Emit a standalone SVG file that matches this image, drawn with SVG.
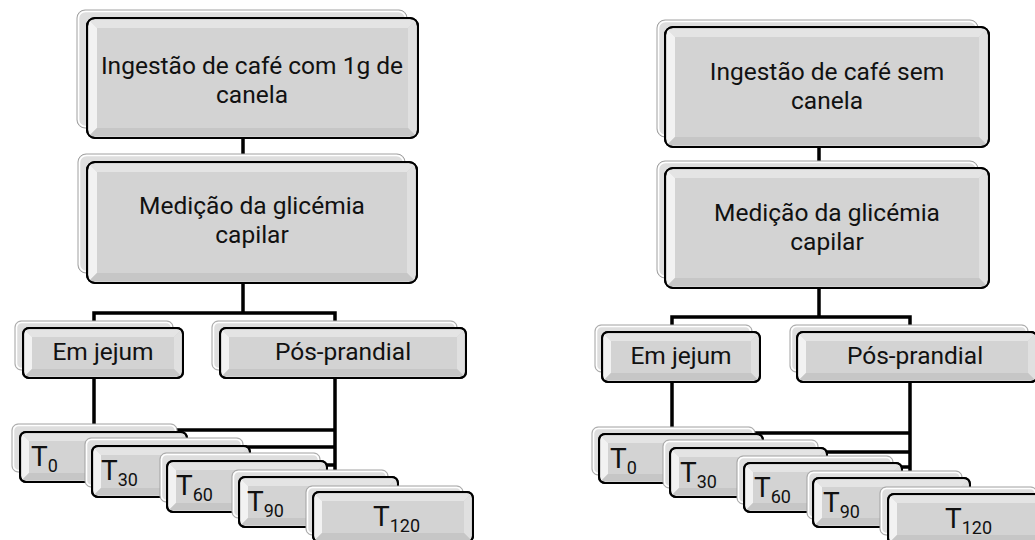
<svg xmlns="http://www.w3.org/2000/svg" width="1035" height="540" viewBox="0 0 1035 540">
<style>
.bk{fill:#dedede;stroke:#a0a0a0;stroke-width:1}
.bkh{fill:none;stroke:#ffffff;stroke-width:1.5}
.fr{fill:#d3d3d3;stroke:#000;stroke-width:2}
.frs{fill:none;stroke:#000;stroke-width:2}
.bt{fill:#e4e4e4}
.bl{fill:#f2f2f2}
.br{fill:#e0e0e0}
.bb{fill:#c6c6c6}
.tx{font-family:Roboto,"Liberation Sans",sans-serif;font-size:24.5px;fill:#111;text-anchor:middle}
.tt{font-family:Roboto,"Liberation Sans",sans-serif;font-size:28px;fill:#111}
.sub{font-size:18px}
.cn{fill:none;stroke:#000;stroke-width:3.5}
</style>
<rect width="1035" height="540" fill="#fff"/>
<g id="connectors">
<path class="cn" d="M243,138V162M243,283V313M94,328V313H335V328M94,378V432M335,378V470M335,430H100M335,447H170M335,465H240"/>
<path class="cn" d="M819,147V168M819,288V317M672,332V317H910V332M672,382V434M910,382V472M910,433H610M910,452H680M910,467H750"/>
</g>
<!-- LEFT -->
<g id="l-ingestao">
<rect class="bk" x="77" y="10" width="330" height="118" rx="8"/><rect class="bkh" x="78.5" y="11.5" width="327" height="115" rx="7"/>
<rect class="fr" x="87" y="18" width="331" height="120" rx="8"/>
<polygon class="bt" points="89,20 416,20 408,28 97,28"/>
<polygon class="bl" points="89,20 97,28 97,128 89,136"/>
<polygon class="br" points="416,20 416,136 408,128 408,28"/>
<polygon class="bb" points="89,136 97,128 408,128 416,136"/>
<rect class="frs" x="87" y="18" width="331" height="120" rx="8"/>
<text class="tx" x="252" y="74">Ingestão de café com 1g de<tspan x="252" y="103">canela</tspan></text>
</g>
<g id="l-medicao">
<rect class="bk" x="78" y="154" width="327" height="119" rx="8"/><rect class="bkh" x="79.5" y="155.5" width="324" height="116" rx="7"/>
<rect class="fr" x="87" y="162" width="330" height="121" rx="8"/>
<polygon class="bt" points="89,164 415,164 407,172 97,172"/>
<polygon class="bl" points="89,164 97,172 97,273 89,281"/>
<polygon class="br" points="415,164 415,281 407,273 407,172"/>
<polygon class="bb" points="89,281 97,273 407,273 415,281"/>
<rect class="frs" x="87" y="162" width="330" height="121" rx="8"/>
<text class="tx" x="252" y="214">Medição da glicémia<tspan x="252" y="243">capilar</tspan></text>
</g>
<g id="l-jejum">
<rect class="bk" x="15" y="321" width="158" height="49" rx="6"/><rect class="bkh" x="16.5" y="322.5" width="155" height="46" rx="5"/>
<rect class="fr" x="23" y="328" width="160" height="50" rx="6"/>
<polygon class="bt" points="25,330 181,330 174,337 32,337"/>
<polygon class="bl" points="25,330 32,337 32,369 25,376"/>
<polygon class="br" points="181,330 181,376 174,369 174,337"/>
<polygon class="bb" points="25,376 32,369 174,369 181,376"/>
<rect class="frs" x="23" y="328" width="160" height="50" rx="6"/>
<text class="tx" x="103" y="360">Em jejum</text>
</g>
<g id="l-pos">
<rect class="bk" x="212" y="321" width="245" height="49" rx="6"/><rect class="bkh" x="213.5" y="322.5" width="242" height="46" rx="5"/>
<rect class="fr" x="220" y="328" width="246" height="50" rx="6"/>
<polygon class="bt" points="222,330 464,330 457,337 229,337"/>
<polygon class="bl" points="222,330 229,337 229,369 222,376"/>
<polygon class="br" points="464,330 464,376 457,369 457,337"/>
<polygon class="bb" points="222,376 229,369 457,369 464,376"/>
<rect class="frs" x="220" y="328" width="246" height="50" rx="6"/>
<text class="tx" x="343" y="360">Pós-prandial</text>
</g>
<g id="l-t0">
<rect class="bk" x="12" y="424" width="165" height="48" rx="6"/><rect class="bkh" x="13.5" y="425.5" width="162" height="45" rx="5"/>
<rect class="fr" x="20" y="432" width="167" height="50" rx="6"/>
<polygon class="bt" points="22,434 185,434 178,441 29,441"/>
<polygon class="bl" points="22,434 29,441 29,473 22,480"/>
<polygon class="br" points="185,434 185,480 178,473 178,441"/>
<polygon class="bb" points="22,480 29,473 178,473 185,480"/>
<rect class="frs" x="20" y="432" width="167" height="50" rx="6"/>
<text class="tt" x="31" y="466">T<tspan class="sub" dy="6">0</tspan></text>
</g>
<g id="l-t30">
<rect class="bk" x="85" y="438" width="158" height="49" rx="6"/><rect class="bkh" x="86.5" y="439.5" width="155" height="46" rx="5"/>
<rect class="fr" x="92" y="446" width="158" height="51" rx="6"/>
<polygon class="bt" points="94,448 248,448 241,455 101,455"/>
<polygon class="bl" points="94,448 101,455 101,488 94,495"/>
<polygon class="br" points="248,448 248,495 241,488 241,455"/>
<polygon class="bb" points="94,495 101,488 241,488 248,495"/>
<rect class="frs" x="92" y="446" width="158" height="51" rx="6"/>
<text class="tt" x="101" y="480">T<tspan class="sub" dy="6">30</tspan></text>
</g>
<g id="l-t60">
<rect class="bk" x="160" y="453" width="160" height="49" rx="6"/><rect class="bkh" x="161.5" y="454.5" width="157" height="46" rx="5"/>
<rect class="fr" x="167" y="461" width="160" height="51" rx="6"/>
<polygon class="bt" points="169,463 325,463 318,470 176,470"/>
<polygon class="bl" points="169,463 176,470 176,503 169,510"/>
<polygon class="br" points="325,463 325,510 318,503 318,470"/>
<polygon class="bb" points="169,510 176,503 318,503 325,510"/>
<rect class="frs" x="167" y="461" width="160" height="51" rx="6"/>
<text class="tt" x="176" y="495">T<tspan class="sub" dy="6">60</tspan></text>
</g>
<g id="l-t90">
<rect class="bk" x="232" y="470" width="156" height="48" rx="6"/><rect class="bkh" x="233.5" y="471.5" width="153" height="45" rx="5"/>
<rect class="fr" x="239" y="477" width="159" height="50" rx="6"/>
<polygon class="bt" points="241,479 396,479 389,486 248,486"/>
<polygon class="bl" points="241,479 248,486 248,518 241,525"/>
<polygon class="br" points="396,479 396,525 389,518 389,486"/>
<polygon class="bb" points="241,525 248,518 389,518 396,525"/>
<rect class="frs" x="239" y="477" width="159" height="50" rx="6"/>
<text class="tt" x="247" y="511">T<tspan class="sub" dy="6">90</tspan></text>
</g>
<g id="l-t120">
<rect class="bk" x="306" y="486" width="157" height="49" rx="6"/><rect class="bkh" x="307.5" y="487.5" width="154" height="46" rx="5"/>
<rect class="fr" x="313" y="492" width="160" height="50" rx="6"/>
<polygon class="bt" points="315,494 471,494 464,501 322,501"/>
<polygon class="bl" points="315,494 322,501 322,533 315,540"/>
<polygon class="br" points="471,494 471,540 464,533 464,501"/>
<polygon class="bb" points="315,540 322,533 464,533 471,540"/>
<rect class="frs" x="313" y="492" width="160" height="50" rx="6"/>
<text class="tt" x="373" y="526">T<tspan class="sub" dy="6">120</tspan></text>
</g>
<!-- RIGHT -->
<g id="r-ingestao">
<rect class="bk" x="657" y="20" width="321" height="117" rx="8"/><rect class="bkh" x="658.5" y="21.5" width="318" height="114" rx="7"/>
<rect class="fr" x="665" y="27" width="324" height="120" rx="8"/>
<polygon class="bt" points="667,29 987,29 979,37 675,37"/>
<polygon class="bl" points="667,29 675,37 675,137 667,145"/>
<polygon class="br" points="987,29 987,145 979,137 979,37"/>
<polygon class="bb" points="667,145 675,137 979,137 987,145"/>
<rect class="frs" x="665" y="27" width="324" height="120" rx="8"/>
<text class="tx" x="827" y="80">Ingestão de café sem<tspan x="827" y="109">canela</tspan></text>
</g>
<g id="r-medicao">
<rect class="bk" x="657" y="161" width="321" height="117" rx="8"/><rect class="bkh" x="658.5" y="162.5" width="318" height="114" rx="7"/>
<rect class="fr" x="665" y="168" width="324" height="120" rx="8"/>
<polygon class="bt" points="667,170 987,170 979,178 675,178"/>
<polygon class="bl" points="667,170 675,178 675,278 667,286"/>
<polygon class="br" points="987,170 987,286 979,278 979,178"/>
<polygon class="bb" points="667,286 675,278 979,278 987,286"/>
<rect class="frs" x="665" y="168" width="324" height="120" rx="8"/>
<text class="tx" x="827" y="221">Medição da glicémia<tspan x="827" y="250">capilar</tspan></text>
</g>
<g id="r-jejum">
<rect class="bk" x="595" y="325" width="157" height="47" rx="6"/><rect class="bkh" x="596.5" y="326.5" width="154" height="44" rx="5"/>
<rect class="fr" x="602" y="332" width="158" height="50" rx="6"/>
<polygon class="bt" points="604,334 758,334 751,341 611,341"/>
<polygon class="bl" points="604,334 611,341 611,373 604,380"/>
<polygon class="br" points="758,334 758,380 751,373 751,341"/>
<polygon class="bb" points="604,380 611,373 751,373 758,380"/>
<rect class="frs" x="602" y="332" width="158" height="50" rx="6"/>
<text class="tx" x="681" y="364">Em jejum</text>
</g>
<g id="r-pos">
<rect class="bk" x="790" y="325" width="238" height="47" rx="6"/><rect class="bkh" x="791.5" y="326.5" width="235" height="44" rx="5"/>
<rect class="fr" x="797" y="332" width="240" height="50" rx="6"/>
<polygon class="bt" points="799,334 1035,334 1028,341 806,341"/>
<polygon class="bl" points="799,334 806,341 806,373 799,380"/>
<polygon class="br" points="1035,334 1035,380 1028,373 1028,341"/>
<polygon class="bb" points="799,380 806,373 1028,373 1035,380"/>
<rect class="frs" x="797" y="332" width="240" height="50" rx="6"/>
<text class="tx" x="915" y="364">Pós-prandial</text>
</g>
<g id="r-t0">
<rect class="bk" x="592" y="427" width="163" height="48" rx="6"/><rect class="bkh" x="593.5" y="428.5" width="160" height="45" rx="5"/>
<rect class="fr" x="599" y="434" width="164" height="49" rx="6"/>
<polygon class="bt" points="601,436 761,436 754,443 608,443"/>
<polygon class="bl" points="601,436 608,443 608,474 601,481"/>
<polygon class="br" points="761,436 761,481 754,474 754,443"/>
<polygon class="bb" points="601,481 608,474 754,474 761,481"/>
<rect class="frs" x="599" y="434" width="164" height="49" rx="6"/>
<text class="tt" x="610" y="468">T<tspan class="sub" dy="6">0</tspan></text>
</g>
<g id="r-t30">
<rect class="bk" x="663" y="440" width="155" height="48" rx="6"/><rect class="bkh" x="664.5" y="441.5" width="152" height="45" rx="5"/>
<rect class="fr" x="670" y="448" width="157" height="49" rx="6"/>
<polygon class="bt" points="672,450 825,450 818,457 679,457"/>
<polygon class="bl" points="672,450 679,457 679,488 672,495"/>
<polygon class="br" points="825,450 825,495 818,488 818,457"/>
<polygon class="bb" points="672,495 679,488 818,488 825,495"/>
<rect class="frs" x="670" y="448" width="157" height="49" rx="6"/>
<text class="tt" x="680" y="482">T<tspan class="sub" dy="6">30</tspan></text>
</g>
<g id="r-t60">
<rect class="bk" x="737" y="456" width="156" height="48" rx="6"/><rect class="bkh" x="738.5" y="457.5" width="153" height="45" rx="5"/>
<rect class="fr" x="744" y="463" width="158" height="49" rx="6"/>
<polygon class="bt" points="746,465 900,465 893,472 753,472"/>
<polygon class="bl" points="746,465 753,472 753,503 746,510"/>
<polygon class="br" points="900,465 900,510 893,503 893,472"/>
<polygon class="bb" points="746,510 753,503 893,503 900,510"/>
<rect class="frs" x="744" y="463" width="158" height="49" rx="6"/>
<text class="tt" x="754" y="497">T<tspan class="sub" dy="6">60</tspan></text>
</g>
<g id="r-t90">
<rect class="bk" x="807" y="471" width="155" height="48" rx="6"/><rect class="bkh" x="808.5" y="472.5" width="152" height="45" rx="5"/>
<rect class="fr" x="813" y="478" width="157" height="49" rx="6"/>
<polygon class="bt" points="815,480 968,480 961,487 822,487"/>
<polygon class="bl" points="815,480 822,487 822,518 815,525"/>
<polygon class="br" points="968,480 968,525 961,518 961,487"/>
<polygon class="bb" points="815,525 822,518 961,518 968,525"/>
<rect class="frs" x="813" y="478" width="157" height="49" rx="6"/>
<text class="tt" x="823" y="512">T<tspan class="sub" dy="6">90</tspan></text>
</g>
<g id="r-t120">
<rect class="bk" x="880" y="487" width="157" height="48" rx="6"/><rect class="bkh" x="881.5" y="488.5" width="154" height="45" rx="5"/>
<rect class="fr" x="888" y="494" width="160" height="50" rx="6"/>
<polygon class="bt" points="890,496 1046,496 1039,503 897,503"/>
<polygon class="bl" points="890,496 897,503 897,535 890,542"/>
<polygon class="br" points="1046,496 1046,542 1039,535 1039,503"/>
<polygon class="bb" points="890,542 897,535 1039,535 1046,542"/>
<rect class="frs" x="888" y="494" width="160" height="50" rx="6"/>
<text class="tt" x="945" y="528">T<tspan class="sub" dy="6">120</tspan></text>
</g>
</svg>
